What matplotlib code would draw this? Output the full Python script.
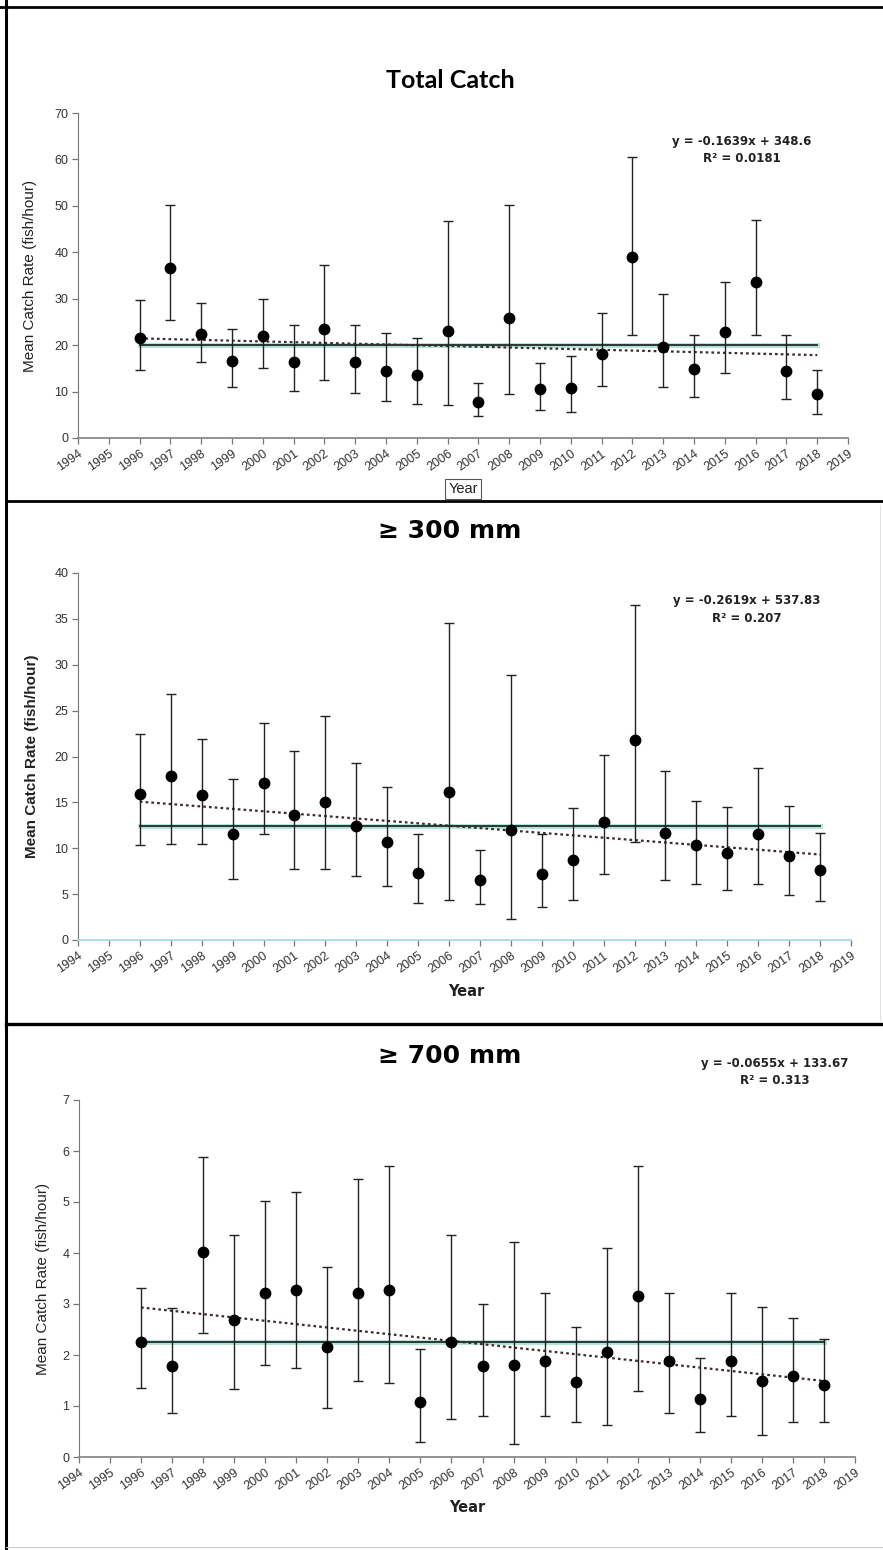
import numpy as np
import matplotlib
matplotlib.use('Agg')
from matplotlib import pyplot as plt
from matplotlib.lines import Line2D

years = list(range(1996, 2019))

# Total catch: mean, upper and lower ends of the error bars
total_mean = [21.5, 36.7, 22.3, 16.6, 22.0, 16.4, 23.4, 16.4, 14.5, 13.6, 23.0, 7.8,
              25.9, 10.6, 10.8, 18.0, 39.0, 19.7, 14.9, 22.8, 33.5, 14.4, 9.5]
total_hi = [29.7, 50.2, 29.0, 23.4, 30.0, 24.3, 37.3, 24.3, 22.7, 21.5, 46.8, 11.8,
            50.2, 16.1, 17.7, 26.9, 60.6, 31.0, 22.1, 33.6, 47.0, 22.1, 14.6]
total_lo = [14.6, 25.4, 16.3, 10.9, 15.0, 10.2, 12.6, 9.8, 8.0, 7.3, 7.1, 4.7,
            9.5, 6.0, 5.5, 11.1, 22.2, 10.9, 8.9, 13.9, 22.2, 8.3, 5.2]
total_avg = 20.0
total_fit = (-0.1639, 348.6)

# >= 300 mm
m300_mean = [15.9, 17.9, 15.8, 11.5, 17.1, 13.6, 15.0, 12.4, 10.7, 7.3, 16.1, 6.5,
             12.0, 7.2, 8.7, 12.9, 21.8, 11.7, 10.4, 9.5, 11.6, 9.2, 7.6]
m300_hi = [22.5, 26.8, 21.9, 17.5, 23.6, 20.6, 24.4, 19.3, 16.7, 11.5, 34.6, 9.8,
           28.9, 11.6, 14.4, 20.2, 36.5, 18.4, 15.2, 14.5, 18.7, 14.6, 11.7]
m300_lo = [10.4, 10.5, 10.5, 6.6, 11.5, 7.7, 7.7, 7.0, 5.9, 4.0, 4.4, 3.9,
           2.3, 3.6, 4.4, 7.2, 10.7, 6.5, 6.1, 5.4, 6.1, 4.9, 4.2]
m300_avg = 12.4
m300_fit = (-0.2619, 537.83)

# >= 700 mm
m700_mean = [2.25, 1.78, 4.01, 2.68, 3.22, 3.28, 2.15, 3.21, 3.28, 1.07, 2.25, 1.78,
             1.81, 1.89, 1.48, 2.05, 3.16, 1.89, 1.14, 1.89, 1.49, 1.59, 1.42]
m700_hi = [3.31, 2.92, 5.89, 4.35, 5.02, 5.20, 3.72, 5.45, 5.71, 2.12, 4.35, 3.00,
           4.22, 3.22, 2.54, 4.09, 5.71, 3.22, 1.95, 3.22, 2.95, 2.73, 2.32]
m700_lo = [1.36, 0.86, 2.44, 1.34, 1.80, 1.74, 0.96, 1.49, 1.46, 0.29, 0.75, 0.81,
           0.26, 0.81, 0.68, 0.62, 1.29, 0.86, 0.49, 0.81, 0.44, 0.68, 0.68]
m700_avg = 2.25
m700_fit = (-0.0655, 133.67)

W, H = 883, 1550
fig = plt.figure(figsize=(W/100, H/100), dpi=100)

def fx(px):
	return px / W

def fy(py):
	return 1 - py / H

panels = [
	dict(title='Total Catch', tfont='Lato', mean=total_mean, hi=total_hi, lo=total_lo,
		 avg=total_avg, fit=total_fit, ylim=70, ystep=10,
		 box=(78, 113, 848, 438), title_y=80, eq=(742, 150), eq_txt=('y = -0.1639x + 348.6', 'R² = 0.0181'),
		 ylab_x=30, ylab_bold=False, year=(463, 489), year_box=True, base='#8a8a8a'),
	dict(title='≥ 300 mm', tfont='DejaVu Sans', mean=m300_mean, hi=m300_hi, lo=m300_lo,
		 avg=m300_avg, fit=m300_fit, ylim=40, ystep=5,
		 box=(78, 573, 851, 940), title_y=531, eq=(747, 609), eq_txt=('y = -0.2619x + 537.83', 'R² = 0.207'),
		 ylab_x=32, ylab_bold=True, year=(466, 992), year_box=False, base='#a9dbe3'),
	dict(title='≥ 700 mm', tfont='DejaVu Sans', mean=m700_mean, hi=m700_hi, lo=m700_lo,
		 avg=m700_avg, fit=m700_fit, ylim=7, ystep=1,
		 box=(79, 1100, 855, 1457), title_y=1056, eq=(775, 1071), eq_txt=('y = -0.0655x + 133.67', 'R² = 0.313'),
		 ylab_x=43, ylab_bold=False, year=(467, 1508), year_box=False, base='#8a8a8a'),
]

for p in panels:
	x0, y0, x1, y1 = p['box']
	ax = fig.add_axes([fx(x0), fy(y1), fx(x1) - fx(x0), fy(y0) - fy(y1)])
	mean = np.array(p['mean'])
	err = [mean - np.array(p['lo']), np.array(p['hi']) - mean]
	ax.errorbar(years, mean, yerr=err, fmt='o', color='black', ms=7.5,
				ecolor='#222222', elinewidth=1.0, capsize=3.5, capthick=1.0, zorder=4)
	# mean line
	ax.plot([years[0], years[-1]], [p['avg'], p['avg']], color='#55c0a8', lw=3.5, alpha=0.45, zorder=2)
	ax.plot([years[0], years[-1]], [p['avg'], p['avg']], color='#1e2b28', lw=1.3, zorder=3)
	# trend line from the fitted equation
	a, b = p['fit']
	ends = np.array([years[0], years[-1]])
	ax.plot(ends, a * ends + b, color='#3a2a2a', lw=1.6, ls=(0, (1.2, 1.4)), zorder=3)

	ax.set_xlim(1994, 2019)
	ax.set_ylim(0, p['ylim'])
	ax.set_xticks(range(1994, 2020))
	ax.set_xticklabels([str(y) for y in range(1994, 2020)], rotation=35, ha='right',
					   rotation_mode='anchor', fontsize=9, color='#333333', family='Liberation Sans')
	ax.set_yticks(np.arange(0, p['ylim'] + 0.01, p['ystep']))
	ax.set_yticklabels([f'{v:g}' for v in np.arange(0, p['ylim'] + 0.01, p['ystep'])],
					   fontsize=9, color='#333333', family='Liberation Sans')
	ax.tick_params(axis='both', direction='out', length=4, width=0.9, color='#777777', pad=3)
	for s in ['top', 'right']:
		ax.spines[s].set_visible(False)
	ax.spines['left'].set_color('#777777')
	ax.spines['bottom'].set_color(p['base'])
	ax.spines['bottom'].set_linewidth(1.3)
	ax.patch.set_alpha(0)

	fig.text(fx(450), fy(p['title_y']), p['title'], ha='center', va='center',
			 fontsize=18, fontweight='bold', family=p['tfont'])
	ex, ey = p['eq']
	fig.text(fx(ex), fy(ey - 8), p['eq_txt'][0], ha='center', va='center',
			 fontsize=8.5, fontweight='bold', family='DejaVu Sans', color='#222222')
	fig.text(fx(ex), fy(ey + 9), p['eq_txt'][1], ha='center', va='center',
			 fontsize=8.5, fontweight='bold', family='DejaVu Sans', color='#222222')
	fig.text(fx(p['ylab_x']), fy((y0 + y1) / 2), 'Mean Catch Rate (fish/hour)', rotation=90,
			 ha='center', va='center', fontsize=11, family='Liberation Sans',
			 fontweight='bold' if p['ylab_bold'] else 'normal', color='#222222')
	yx, yy = p['year']
	if p['year_box']:
		fig.text(fx(yx), fy(yy), 'Year', ha='center', va='center', fontsize=10.5,
				 family='Liberation Sans', color='#222222',
				 bbox=dict(boxstyle='square,pad=0.2', fc='white', ec='#555555', lw=0.8))
	else:
		fig.text(fx(yx), fy(yy), 'Year', ha='center', va='center', fontsize=10.5,
				 fontweight='bold', family='DejaVu Sans', color='#222222')

# panel frames
frame = [([fx(0), fx(W)], [fy(7), fy(7)], 2.0, 'black'),
		 ([fx(6), fx(6)], [fy(0), fy(H)], 2.2, 'black'),
		 ([fx(6), fx(W)], [fy(501), fy(501)], 2.0, 'black'),
		 ([fx(6), fx(W)], [fy(1024), fy(1024)], 2.4, 'black'),
		 ([fx(6), fx(W)], [fy(1547), fy(1547)], 0.8, '#cccccc'),
		 ([fx(880), fx(880)], [fy(505), fy(1020)], 0.6, '#dddddd')]
for xs, ys, lw, c in frame:
	fig.add_artist(Line2D(xs, ys, lw=lw, color=c))

fig.savefig('out.png', dpi=100)
